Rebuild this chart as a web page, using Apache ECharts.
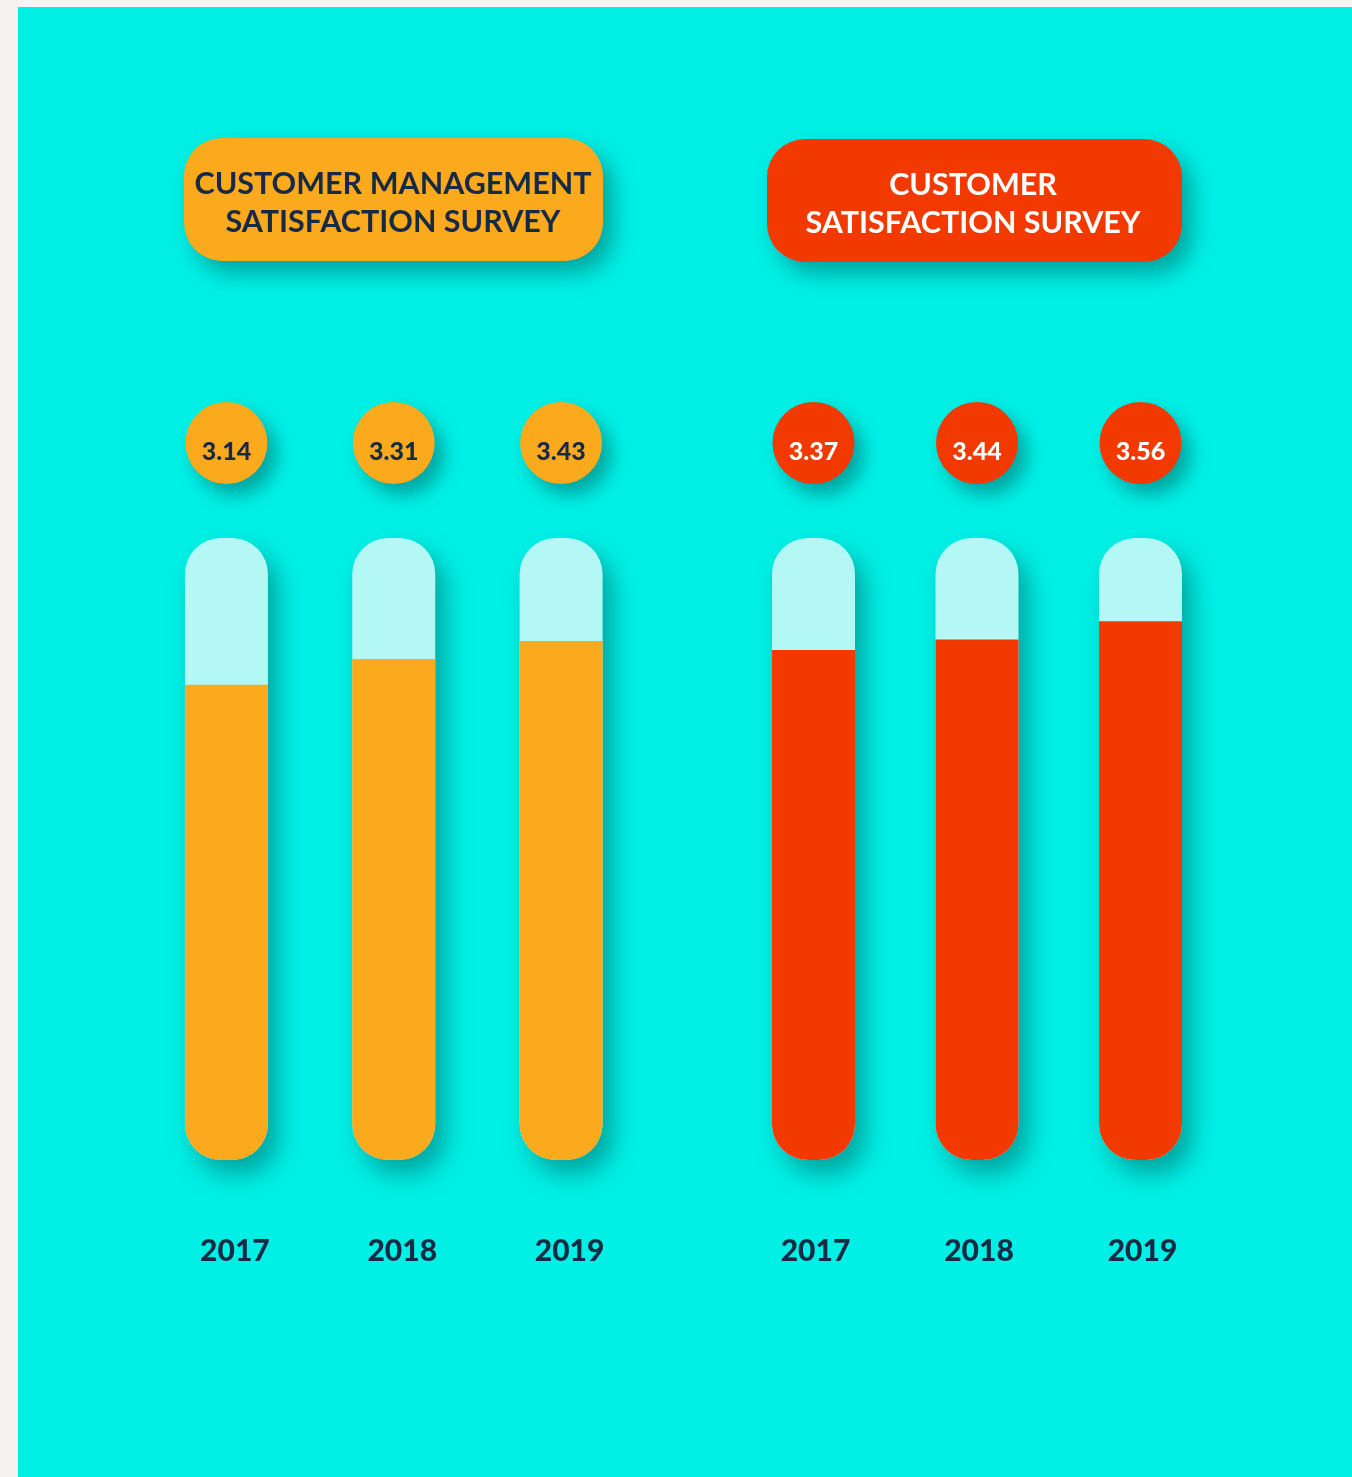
<!DOCTYPE html>
<html><head><meta charset="utf-8">
<script src="https://cdn.jsdelivr.net/npm/echarts@6/dist/echarts.min.js"></script>
<style>html,body{margin:0;padding:0;background:#f6f3f3;overflow:hidden;} #c{position:absolute;left:18px;top:7px;width:1334px;height:1470px;}</style>
</head><body><div id="c"></div>
<script>
const years = ['2017', '2018', '2019'];
const managementScores = [3.14, 3.31, 3.43];
const customerScores = [3.37, 3.44, 3.56];
const titleLeft = ['CUSTOMER MANAGEMENT', 'SATISFACTION SURVEY'];
const titleRight = ['CUSTOMER', 'SATISFACTION SURVEY'];
const scaleMax = 4.11;

const NAVY = '#172a45';
const ORANGE = '#fbaa1e';
const RED = '#f23a00';
const TRACK = '#b3f8f5';
const CYAN = '#00f0e6';
const SHADOW = 'rgba(0,90,90,0.5)';
const FONT = 'Lato, "Open Sans", sans-serif';

function panelSeries(idx, scores, color, textColor) {
  return [
    {
      type: 'bar', xAxisIndex: idx, yAxisIndex: idx,
      data: years.map(() => scaleMax),
      barWidth: 83, barGap: '-100%', silent: true, z: 2,
      itemStyle: { color: TRACK, borderRadius: 36, shadowColor: SHADOW, shadowBlur: 24, shadowOffsetX: 10, shadowOffsetY: 14 },
      label: {
        show: true, position: 'top', distance: 54,
        formatter: p => scores[p.dataIndex].toFixed(2),
        width: 82, height: 64, lineHeight: 64, padding: [18, 0, 0, 0],
        align: 'center', borderRadius: 41, backgroundColor: color,
        color: textColor, fontFamily: FONT, fontWeight: 900, fontSize: 25,
        shadowColor: SHADOW, shadowBlur: 18, shadowOffsetX: 9, shadowOffsetY: 11
      }
    },
    {
      type: 'bar', xAxisIndex: idx, yAxisIndex: idx,
      data: scores, barWidth: 83, barGap: '-100%', silent: true, z: 3,
      itemStyle: { color: color, borderRadius: [0, 0, 36, 36] }
    }
  ];
}

function titleBox(x, y, w, h, color, textColor, lines, cx) {
  return {
    type: 'group', left: x, top: y,
    children: [
      { type: 'rect', shape: { x: 0, y: 0, width: w, height: h, r: 38 },
        style: { fill: color, shadowColor: SHADOW, shadowBlur: 22, shadowOffsetX: 10, shadowOffsetY: 12 } },
      { type: 'text', x: cx, y: 46, style: { text: lines[0], fill: textColor, font: 'bold 30.5px ' + FONT, textAlign: 'center', textVerticalAlign: 'middle' } },
      { type: 'text', x: cx, y: 84, style: { text: lines[1], fill: textColor, font: 'bold 30.5px ' + FONT, textAlign: 'center', textVerticalAlign: 'middle' } }
    ]
  };
}

const chart = echarts.init(document.getElementById('c'));
chart.setOption({
  backgroundColor: CYAN,
  animation: false,
  grid: [
    { left: 124.75, top: 531, width: 502, height: 622 },
    { left: 713.75, top: 531, width: 490.5, height: 622 }
  ],
  xAxis: [0, 1].map(i => ({
    type: 'category', gridIndex: i, data: years,
    axisLine: { show: false }, axisTick: { show: false }, splitLine: { show: false },
    axisLabel: { margin: 76, color: NAVY, fontFamily: FONT, fontWeight: 900, fontSize: 30,
      padding: i === 0 ? [0, 0, 0, 17] : [0, 0, 0, 4] }
  })),
  yAxis: [0, 1].map(i => ({
    type: 'value', gridIndex: i, min: 0, max: scaleMax, show: false, splitLine: { show: false }
  })),
  series: [
    ...panelSeries(0, managementScores, ORANGE, NAVY),
    ...panelSeries(1, customerScores, RED, '#ffffff')
  ],
  graphic: [
    titleBox(166, 131, 419, 123, ORANGE, NAVY, titleLeft, 209),
    titleBox(749, 132, 415, 123, RED, '#ffffff', titleRight, 206)
  ]
});
</script></body></html>
